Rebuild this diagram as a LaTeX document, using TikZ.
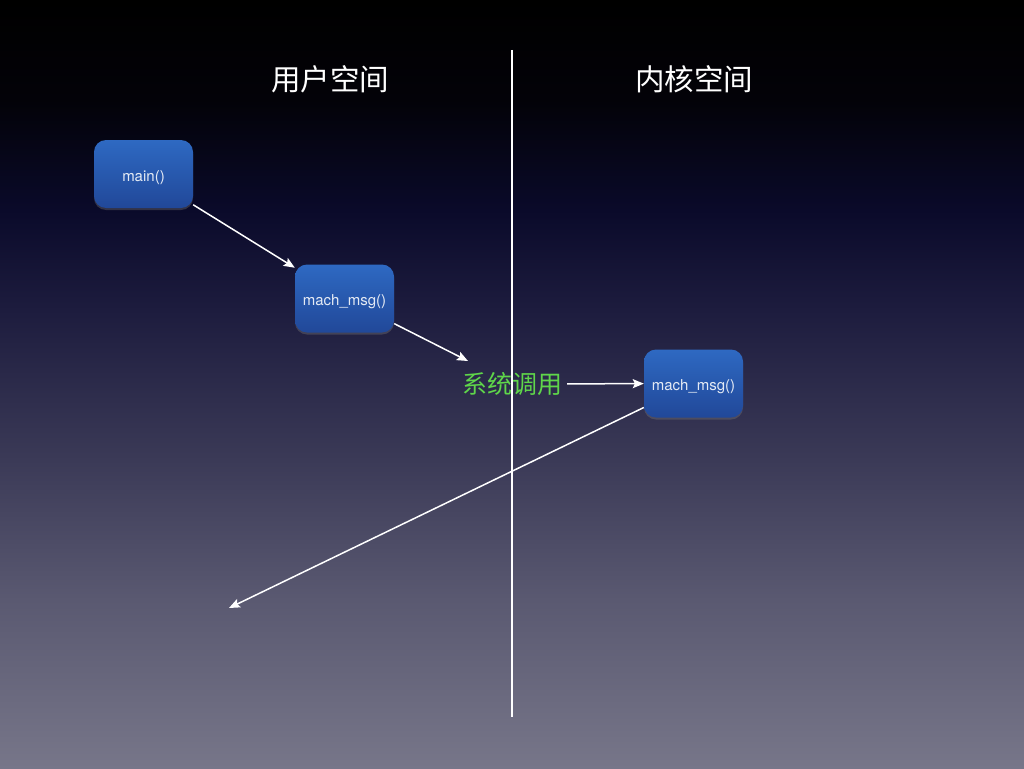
\documentclass[tikz,border=0pt]{standalone}
\usepackage{fontspec}
\setmainfont{TeX Gyre Heros}
\newfontfamily\cjk{Noto Sans CJK SC}
\usetikzlibrary{arrows.meta,shadows}

\definecolor{bga}{HTML}{030208}
\definecolor{bgb}{HTML}{0A0A2A}
\definecolor{bgc}{HTML}{1D1C3E}
\definecolor{bgd}{HTML}{3B3A57}
\definecolor{bge}{HTML}{5A5971}
\definecolor{bgf}{HTML}{777689}
\definecolor{boxtop}{HTML}{2E69C2}
\definecolor{boxbot}{HTML}{214899}
\definecolor{boxtext}{HTML}{E4EAF4}
\definecolor{callgreen}{HTML}{5FD64A}

% background: black at the top fading through navy into a grey-violet
% (the shaded rectangle covers the band 25bp..75bp of the shading)
\pgfdeclareverticalshading{slidebg}{100bp}{%
  color(0bp)=(bgf); color(25bp)=(bgf); color(35.94bp)=(bge); color(45.05bp)=(bgd);
  color(54.82bp)=(bgc); color(61.33bp)=(bgb); color(68.49bp)=(bga);
  color(75bp)=(black); color(100bp)=(black)}

\tikzset{
  fnbox/.style={rounded corners=12pt, minimum width=99pt, minimum height=68pt,
    top color=boxtop, bottom color=boxbot, text=boxtext, font=\fontsize{15}{18}\selectfont,
    text height=14pt, text depth=0pt,
    drop shadow={opacity=0.35, shadow xshift=0pt, shadow yshift=-2pt}},
  spacelabel/.style={text=white, font=\cjk\fontsize{29.5}{33}\selectfont},
  calllabel/.style={text=callgreen, font=\cjk\fontsize{25}{29}\selectfont, inner sep=5pt},
  flow/.style={draw=white, line width=1.5pt, -{Stealth[length=11pt,width=9pt,inset=2pt]}},
  divider/.style={draw=white, line width=2pt}
}

\begin{document}
\begin{tikzpicture}[x=1pt,y=-1pt]
  \useasboundingbox (0,0) rectangle (1024,768);
  \shade[shading=slidebg] (0,0) rectangle (1024,768);

  % boundary between user space and kernel space
  \coordinate (divtop) at (512,50);
  \coordinate (divbot) at (512,717);
  \draw[divider] (divtop) -- (divbot);

  \node[spacelabel] (user) at (330,79) {用户空间};
  \node[spacelabel] (kernel) at (694,79) {内核空间};

  \node[fnbox] (main) at (143.5,174) {main()};
  \node[fnbox] (umsg) at (344.5,298.5) {mach\_msg()};
  \node[fnbox] (kmsg) at (693.5,383.5) {mach\_msg()};
  \node[calllabel] (sys) at (512,384) {系统调用};

  \coordinate (trap) at (468,361);
  \coordinate (ret) at (229,608);

  \draw[flow] (main) -- (umsg);
  \draw[flow] (umsg) -- (trap);
  \draw[flow] (sys) -- (kmsg);
  \draw[flow] (kmsg) -- (ret);
\end{tikzpicture}
\end{document}
